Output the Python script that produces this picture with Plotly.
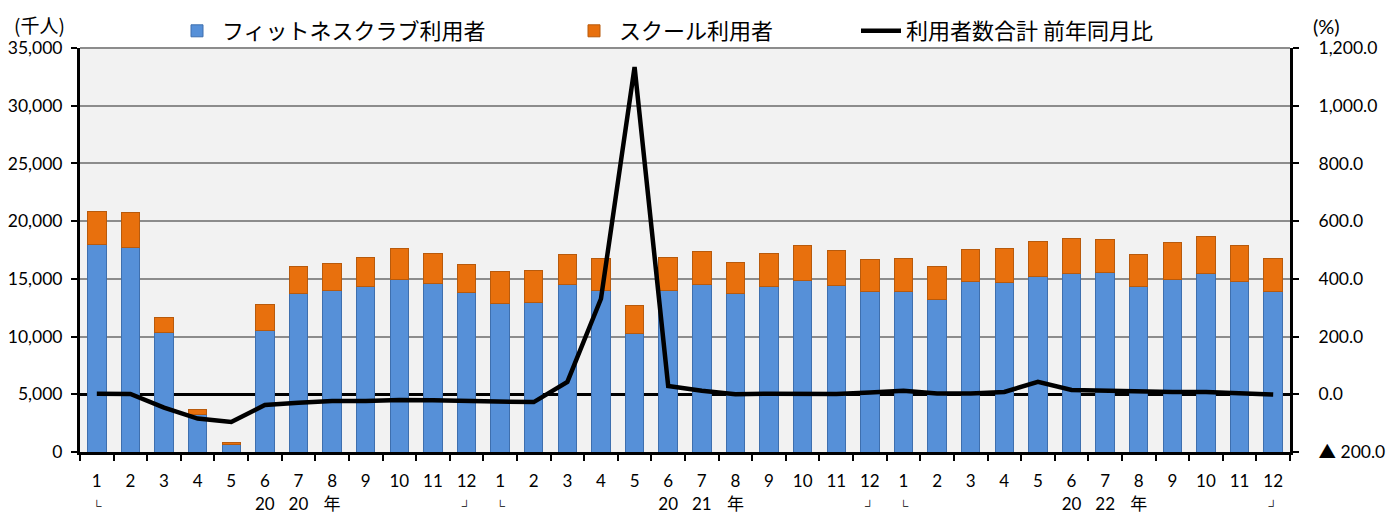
import plotly.graph_objects as go

# ---- data ----
months = [1, 2, 3, 4, 5, 6, 7, 8, 9, 10, 11, 12] * 3
years = [2020] * 12 + [2021] * 12 + [2022] * 12
fitness = [17950, 17760, 10320, 3290, 690, 10550, 13700, 14010, 14300, 14970, 14590, 13780,
           12860, 12950, 14500, 14010, 10270, 13960, 14530, 13720, 14300, 14820, 14390, 13870,
           13870, 13240, 14790, 14680, 15220, 15460, 15510, 14300, 14970, 15460, 14730, 13870]
school = [2920, 2970, 1360, 400, 175, 2250, 2360, 2310, 2540, 2650, 2600, 2450,
          2740, 2790, 2630, 2740, 2420, 2880, 2800, 2680, 2940, 3090, 3060, 2830,
          2910, 2790, 2770, 2970, 3000, 3080, 2940, 2800, 3170, 3200, 3140, 2880]
yoy = [2, 1, -46, -84, -96, -37, -29, -23, -23, -20, -21, -23,
       -27, -27, 43, 331, 1134, 29, 12, 0, 2, 2, 1, 6,
       12, 3, 3, 8, 43, 15, 12, 8, 8, 8, 4, -1]
second_row = {0: "└", 11: "┘", 12: "└", 23: "┘", 24: "└", 35: "┘",
              5: "20", 6: "20", 7: "年", 17: "20", 18: "21", 19: "年",
              29: "20", 30: "22", 31: "年"}
y_left_ticks = [0, 5000, 10000, 15000, 20000, 25000, 30000, 35000]
y_right_ticks = [-200, 0, 200, 400, 600, 800, 1000, 1200]
y_right_text = ["▲ 200.0", "0.0", "200.0", "400.0", "600.0", "800.0", "1,000.0", "1,200.0"]

cats = [f"{y}-{m}" for y, m in zip(years, months)]
ticktext = []
for i, m in enumerate(months):
    s = second_row.get(i, "")
    if s in ("└", "┘"):
        s = f"<span style='font-size:12px;color:black'>{s}</span>"
    ticktext.append(f"{m}<br>{s if s else ' '}")

FONT = "Lato, Noto Sans CJK JP, sans-serif"
LEGFONT = dict(size=22, family="Noto Sans CJK JP", color="black")

# the page body has an 8px margin, so the figure is drawn 8px smaller and offset
W, H, OFF = 1394 - 8, 512 - 8, 8

fig = go.Figure()
fig.add_trace(go.Bar(x=cats, y=fitness, name="フィットネスクラブ利用者", legend="legend2",
                     marker=dict(color="#5690d8", line=dict(color="#3e6fae", width=1)),
                     width=0.55))
fig.add_trace(go.Bar(x=cats, y=school, name="スクール利用者", legend="legend3",
                     marker=dict(color="#e8700d", line=dict(color="#b85a0c", width=1)),
                     width=0.55))
fig.add_trace(go.Scatter(x=cats, y=yoy, name="利用者数合計 前年同月比", yaxis="y2",
                         legend="legend4",
                         mode="lines", line=dict(color="black", width=4.5)))

def leg(xpx):
    return dict(xref="container", yref="container", x=(xpx - OFF) / W, xanchor="left",
                y=1 - (31 - OFF) / H, yanchor="middle", font=LEGFONT,
                bgcolor="rgba(0,0,0,0)", borderwidth=0, itemwidth=40)

fig.update_layout(
    width=W, height=H,
    margin=dict(l=80 - OFF, r=104, t=48 - OFF, b=60, autoexpand=False),
    barmode="stack",
    paper_bgcolor="white",
    plot_bgcolor="#f2f2f2",
    font=dict(family=FONT, size=17, color="black"),
    showlegend=True,
    legend2=leg(172),
    legend3=leg(569),
    legend4=leg(856),
    xaxis=dict(type="category", categoryorder="array", categoryarray=cats,
               tickvals=cats, ticktext=ticktext, tickson="boundaries",
               ticks="outside", ticklen=6, tickwidth=2, tickcolor="black",
               showline=True, linecolor="black", linewidth=3, showgrid=False,
               tickfont=dict(size=17, family=FONT), range=[-0.5, 35.5],
               automargin=False, ticklabelstandoff=12),
    yaxis=dict(range=[0, 35000], tickvals=y_left_ticks, tickformat=",",
               showgrid=True, gridcolor="#8c8c8c", gridwidth=1.5,
               showline=True, linecolor="black", linewidth=3,
               ticks="outside", ticklen=6, tickwidth=2, tickcolor="black",
               tickfont=dict(size=17.5), zeroline=False, automargin=False,
               ticklabelstandoff=5),
    yaxis2=dict(range=[-200, 1200], tickvals=y_right_ticks, ticktext=y_right_text,
                overlaying="y", side="right", showgrid=False,
                showline=True, linecolor="black", linewidth=3,
                ticks="outside", ticklen=6, tickwidth=2, tickcolor="black",
                zeroline=True, zerolinecolor="black", zerolinewidth=2.5,
                tickfont=dict(size=17.5), automargin=False, ticklabelstandoff=16),
)
fig.add_shape(type="line", xref="paper", yref="paper", x0=0, x1=1, y0=1, y1=1,
              line=dict(color="#8c8c8c", width=2))
fig.add_annotation(text="(千人)", xref="paper", yref="paper", x=-0.056, y=1.0,
                   xanchor="left", yanchor="bottom", yshift=8, showarrow=False,
                   font=dict(size=19, family="Noto Sans CJK JP"))
fig.add_annotation(text="(%)", xref="paper", yref="paper", x=1.017, y=1.0,
                   xanchor="left", yanchor="bottom", yshift=8, showarrow=False,
                   font=dict(size=20, family=FONT))

fig.write_html("out.html")
